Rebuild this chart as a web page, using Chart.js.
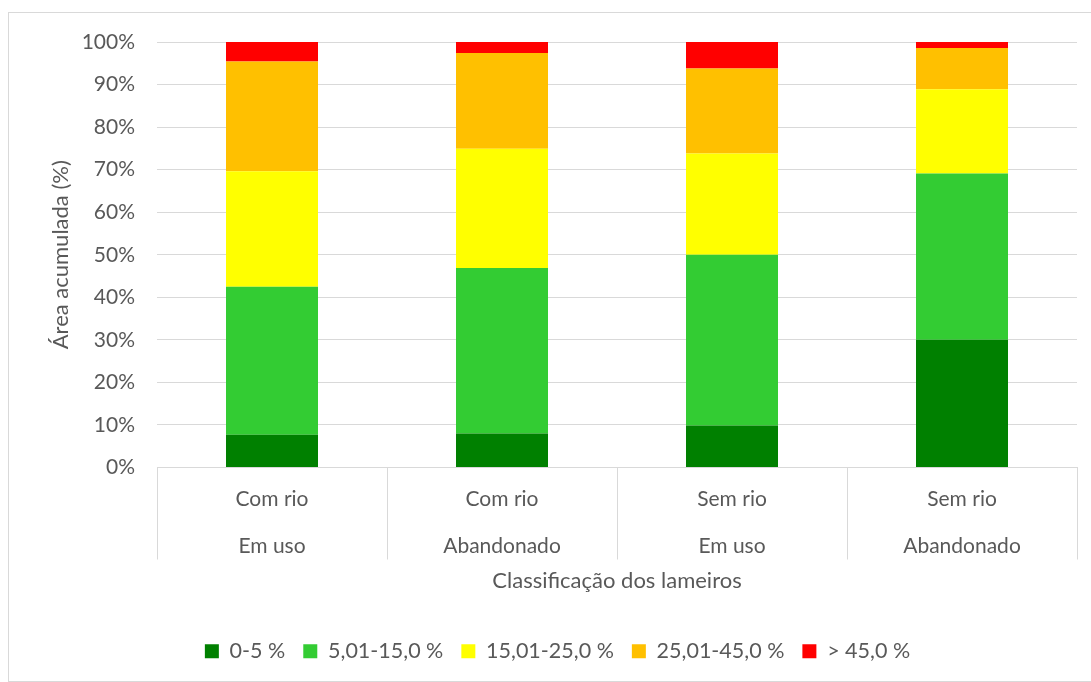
<!DOCTYPE html>
<html>
<head>
<meta charset="utf-8">
<script src="https://cdn.jsdelivr.net/npm/chart.js@4.4.0/dist/chart.umd.min.js"></script>
<style>
  body { margin: 0; background: #fff; }
  #wrap { position: relative; width: 1091px; height: 682px; }
  #frame { position: absolute; left: 8px; top: 12px; width: 1090px; height: 668px; border: 1px solid #d9d9d9; pointer-events: none; }
</style>
</head>
<body>
<div id="wrap">
  <canvas id="grafico_lameiros" width="1091" height="682"></canvas>
  <div id="frame"></div>
</div>
<script>
// categorias (duas linhas cada)
var categorias = [
  ["Com rio", "Em uso"],
  ["Com rio", "Abandonado"],
  ["Sem rio", "Em uso"],
  ["Sem rio", "Abandonado"]
];
var classes = ["0-5 %", "5,01-15,0 %", "15,01-25,0 %", "25,01-45,0 %", "> 45,0 %"];
var cores = ['#008000', '#33cc33', '#ffff00', '#ffc000', '#ff0000'];

// área acumulada (%) por classe
var classe1 = [7.7, 8.0, 9.9, 30.0];
var classe2 = [34.8, 38.9, 40.1, 39.1];
var classe3 = [27.1, 28.0, 23.8, 19.8];
var classe4 = [25.8, 22.5, 20.0, 9.7];
var classe5 = [4.6, 2.6, 6.2, 1.4];

var yTicks = [0, 10, 20, 30, 40, 50, 60, 70, 80, 90, 100];

var series = [classe1, classe2, classe3, classe4, classe5];
var fonte = "Lato, 'Open Sans', sans-serif";
var cinza = '#595959';

new Chart(document.getElementById("grafico_lameiros"), {
  type: 'bar',
  data: {
    labels: categorias,
    datasets: series.map(function(s, i) {
      return {
        label: classes[i],
        data: s,
        backgroundColor: cores[i],
        borderWidth: 0,
        categoryPercentage: 1.0,
        barPercentage: 0.4
      };
    })
  },
  options: {
    responsive: false,
    animation: false,
    layout: { padding: { left: 38, right: 14, top: 42, bottom: 10 } },
    plugins: {
      legend: {
        position: 'bottom',
        labels: {
          boxWidth: 14, boxHeight: 14,
          color: cinza,
          font: { family: fonte, size: 21.5 },
          padding: 18
        }
      },
      tooltip: { enabled: false }
    },
    scales: {
      x: {
        stacked: true,
        afterFit: function(scale) { scale.height = 155; },
        grid: { offset: true, drawOnChartArea: false, tickLength: 92, color: '#d9d9d9' },
        border: { color: '#d9d9d9' },
        ticks: {
          color: cinza,
          padding: -84,
          font: { family: fonte, size: 21, lineHeight: 2.24 }
        },
        title: {
          display: true,
          text: 'Classificação dos lameiros',
          color: cinza,
          font: { family: fonte, size: 22 },
          padding: { top: 2, bottom: 28 }
        }
      },
      y: {
        stacked: true,
        min: 0, max: 100,
        afterFit: function(scale) { scale.width = 119; },
        afterBuildTicks: function(scale) {
          scale.ticks = yTicks.map(function(v) { return { value: v }; });
        },
        grid: { color: '#d9d9d9', drawTicks: false },
        border: { display: false },
        ticks: {
          color: cinza,
          padding: 22,
          font: { family: fonte, size: 21 },
          callback: function(v) { return v + '%'; }
        },
        title: {
          display: true,
          text: 'Área acumulada (%)',
          color: cinza,
          font: { family: fonte, size: 22 },
          padding: { top: 10, bottom: 10 }
        }
      }
    }
  }
});
</script>
</body>
</html>
